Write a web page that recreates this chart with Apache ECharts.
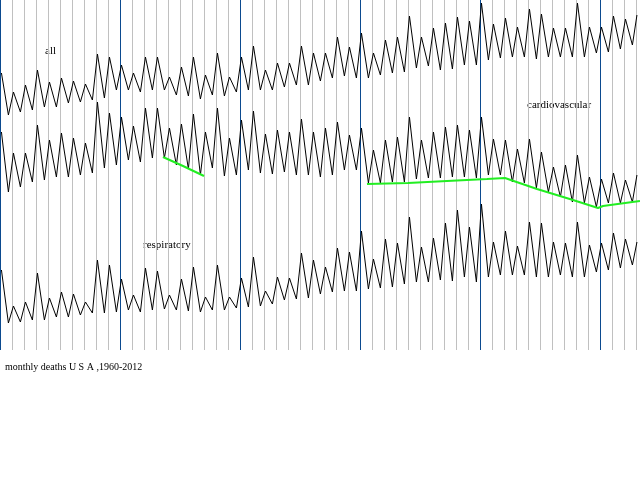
<!DOCTYPE html>
<html>
<head>
<meta charset="utf-8">
<script src="https://cdn.jsdelivr.net/npm/echarts@6/dist/echarts.min.js"></script>
<style>
  html, body { margin: 0; padding: 0; background: #fff; }
  #chart { width: 640px; height: 480px; }
</style>
</head>
<body>
<div id="chart"></div>
<script>
// years shown, one winter peak + one summer low per year
const years = [];
for (let y = 1960; y <= 2012; y++) years.push(y);

// all causes
const allPeak = [177,158,165,180,168,172,169,166,196,193,
  185,177,193,193,173,183,193,175,197,173,
  193,204,180,187,187,204,197,197,213,203,
  217,197,210,213,234,213,222,227,233,229,
  247,226,232,223,241,236,222,222,247,223,
  223,234,231];
const allLow = [135,138,140,143,143,147,148,150,152,160,
  160,158,160,160,155,154,151,155,154,158,
  160,160,160,163,165,165,169,172,174,172,
  172,175,177,178,182,184,180,181,185,185,
  190,192,193,193,191,193,193,193,193,197,
  198,201,205];
const allEnd = 235;

// cardiovascular
const cardPeak = [168,147,147,175,160,167,162,157,198,187,
  183,174,192,192,172,176,186,168,192,162,
  180,189,166,170,168,181,168,172,178,165,
  172,150,160,163,183,160,168,173,175,170,
  183,161,160,151,161,148,133,135,145,123,
  121,127,120];
const cardLow = [108,113,118,120,123,123,125,127,132,135,
  140,138,142,142,135,131,125,132,124,125,
  130,127,126,128,125,125,123,125,130,130,
  117,117,118,118,121,122,122,123,123,122,
  125,125,118,117,112,108,103,98,97,93,
  97,97,98];
const cardEnd = 125;

// respiratory
const respPeak = [80,44,48,77,52,58,56,48,90,85,
  71,55,82,79,55,71,83,53,85,53,
  72,93,59,73,72,97,90,83,102,98,
  119,91,111,107,133,103,112,127,140,123,
  146,108,119,104,128,127,108,107,128,105,
  107,117,111];
const respLow = [27,28,30,30,33,33,35,37,37,38,
  40,38,40,41,40,39,38,40,40,42,
  43,44,46,50,51,52,56,58,59,59,
  61,62,63,66,68,68,70,69,73,68,
  73,75,75,75,73,73,75,73,73,78,
  80,82,85];
const respEnd = 108;

// green trend segments on the cardiovascular curve
const trend1X = [1973.58, 1975.25, 1977.0];
const trend1Y = [143, 134, 124];
const trend2X = [1990.58, 1994.0, 1997.25, 2000.58, 2002.08, 2004.75, 2007.75, 2009.83, 2010.25, 2013.33];
const trend2Y = [116, 117, 119, 121, 122, 111, 100, 92, 94, 99];

function build(peak, low, end) {
  const out = [];
  years.forEach((y, i) => {
    out.push([y + 0.12, peak[i]]);
    out.push([y + 0.7, low[i]]);
  });
  out.push([2013.08, end]);
  return out;
}
const zip = (xs, ys) => xs.map((x, i) => [x, ys[i]]);

const chart = echarts.init(document.getElementById('chart'), null, { renderer: 'canvas' });

const hiddenY = (min, max) => ({
  type: 'value', min: min, max: max, show: false, splitLine: { show: false }
});

chart.setOption({
  animation: false,
  backgroundColor: '#ffffff',
  grid: { left: 0, right: 0, top: 0, bottom: 130 },
  xAxis: [{
    type: 'value', min: 1960, max: 2013.3333, interval: 1,
    axisLine: { show: false }, axisTick: { show: false }, axisLabel: { show: false },
    splitLine: { show: true, showMinLine: false, showMaxLine: false, lineStyle: { color: '#c0c0c0', width: 1 } }
  }, {
    type: 'value', min: 1960, max: 2013.3333, interval: 10,
    axisLine: { show: false }, axisTick: { show: false }, axisLabel: { show: false },
    splitLine: { show: true, showMinLine: true, showMaxLine: false, lineStyle: { color: '#0b4a8f', width: 1 } }
  }],
  yAxis: [hiddenY(-100, 250), hiddenY(-50, 300), hiddenY(0, 350)],
  series: [
    { name: 'all', type: 'line', xAxisIndex: 0, yAxisIndex: 0, data: build(allPeak, allLow, allEnd),
      symbol: 'none', lineStyle: { color: '#000', width: 1 } },
    { name: 'cardiovascular', type: 'line', xAxisIndex: 0, yAxisIndex: 1, data: build(cardPeak, cardLow, cardEnd),
      symbol: 'none', lineStyle: { color: '#000', width: 1 } },
    { name: 'respiratory', type: 'line', xAxisIndex: 0, yAxisIndex: 2, data: build(respPeak, respLow, respEnd),
      symbol: 'none', lineStyle: { color: '#000', width: 1 } },
    { name: 'trend1', type: 'line', xAxisIndex: 0, yAxisIndex: 1, data: zip(trend1X, trend1Y),
      symbol: 'none', lineStyle: { color: '#22ee22', width: 2 } },
    { name: 'trend2', type: 'line', xAxisIndex: 0, yAxisIndex: 1, data: zip(trend2X, trend2Y),
      symbol: 'none', lineStyle: { color: '#22ee22', width: 2 } }
  ],
  graphic: [
    { type: 'text', left: 45, top: 46, style: { text: 'all', fill: '#000', font: '11px "Liberation Serif"' } },
    { type: 'text', left: 527, top: 100, style: { text: 'cardiovascular', fill: '#000', font: '11px "Liberation Serif"' } },
    { type: 'text', left: 143, top: 240, style: { text: 'respiratory', fill: '#000', font: '11px "Liberation Serif"' } },
    { type: 'text', left: 5, top: 362, style: { text: 'monthly deaths U S A ,1960-2012', fill: '#000', font: '10px "Liberation Serif"' } }
  ]
});
</script>
</body>
</html>
